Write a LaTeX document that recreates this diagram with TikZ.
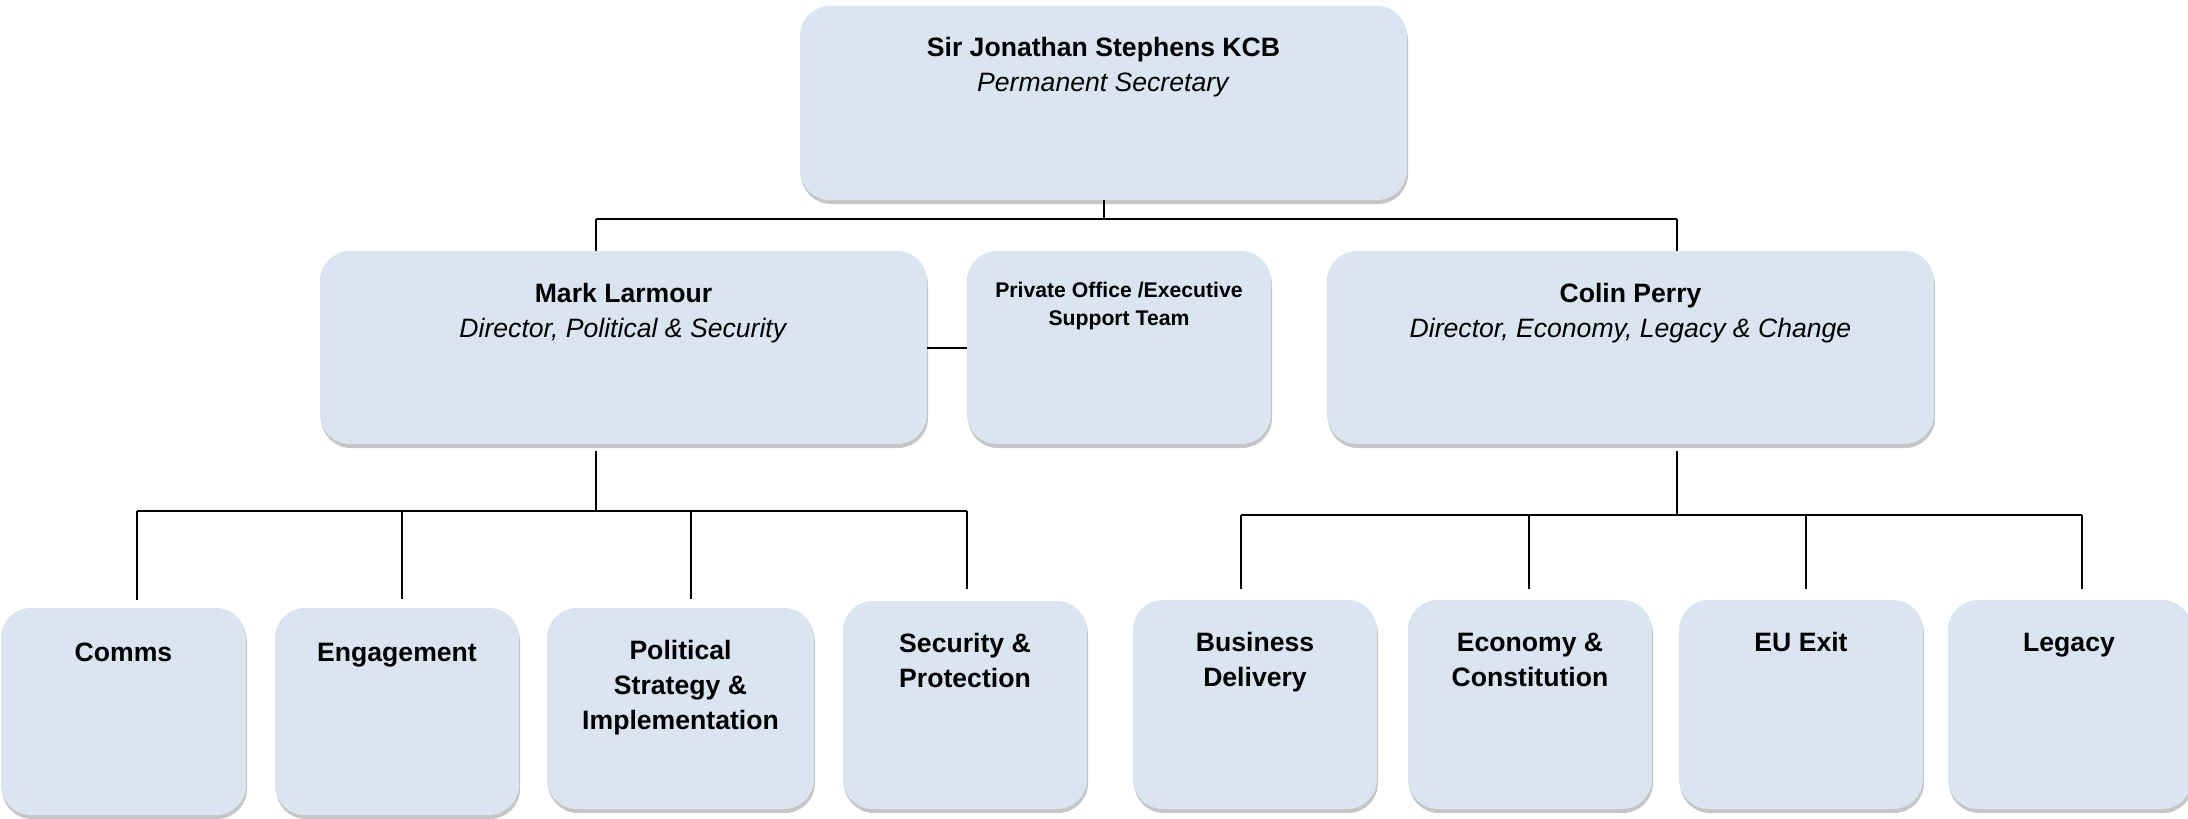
\documentclass[tikz,border=0pt]{standalone}
\usepackage{fontspec}
\setmainfont{Liberation Sans}
\usetikzlibrary{shadows}
\definecolor{boxfill}{HTML}{DBE5F1}
\definecolor{shadowgray}{HTML}{C6C6C6}
\begin{document}
\begin{tikzpicture}[x=1pt,y=-1pt,
  box/.style={rectangle, rounded corners=30pt, fill=boxfill, draw=none, inner sep=0pt, outer sep=0pt, anchor=north west,
    drop shadow={shadow xshift=1pt, shadow yshift=-4pt, fill=shadowgray, opacity=1}},
  big/.style={anchor=base, align=center, inner sep=0pt, font=\fontsize{26.6}{35}\selectfont},
  bigb/.style={big, font=\fontsize{26.6}{35}\selectfont\bfseries},
  small/.style={anchor=base, align=center, inner sep=0pt, font=\fontsize{21.2}{28}\selectfont\bfseries},
  conn/.style={draw=black, line width=2pt}]
\useasboundingbox (0,0) rectangle (2188,819);
% boxes
\node[box, minimum width=607pt, minimum height=194pt] (top) at (800,6) {};
\node[box, minimum width=607pt, minimum height=193pt] (mark) at (320,251) {};
\node[box, minimum width=304pt, minimum height=193pt] (po) at (967,251) {};
\node[box, minimum width=607pt, minimum height=193pt] (colin) at (1327,251) {};
\node[box, minimum width=245pt, minimum height=207pt] (comms) at (1,608) {};
\node[box, minimum width=244pt, minimum height=207pt] (eng) at (275,608) {};
\node[box, minimum width=267pt, minimum height=201pt] (pol) at (547,608) {};
\node[box, minimum width=244pt, minimum height=208pt] (sec) at (843,601) {};
\node[box, minimum width=244pt, minimum height=209pt] (bus) at (1133,600) {};
\node[box, minimum width=244pt, minimum height=209pt] (eco) at (1408,600) {};
\node[box, minimum width=244pt, minimum height=209pt] (eu) at (1679,600) {};
\node[box, minimum width=244pt, minimum height=209pt] (leg) at (1948,600) {};
% texts (base = baseline of last line)
\node[big] (ttop) at (top.north |- 0,91) {\textbf{Sir Jonathan Stephens KCB}\\\textit{Permanent Secretary}};
\node[big] (tmark) at (mark.north |- 0,337) {\textbf{Mark Larmour}\\\textit{Director, Political \& Security}};
\node[small] (tpo) at (po.north |- 0,325) {Private Office /Executive\\Support Team};
\node[big] (tcolin) at (colin.north |- 0,337) {\textbf{Colin Perry}\\\textit{Director, Economy, Legacy \& Change}};
\node[bigb] (tcomms) at (comms.north |- 0,661) {Comms};
\node[bigb] (teng) at (eng.north |- 0,661) {Engagement};
\node[bigb] (tpol) at (pol.north |- 0,729) {Political\\Strategy \&\\Implementation};
\node[bigb] (tsec) at (sec.north |- 0,687) {Security \&\\Protection};
\node[bigb] (tbus) at (bus.north |- 0,686) {Business\\Delivery};
\node[bigb] (teco) at (eco.north |- 0,686) {Economy \&\\Constitution};
\node[bigb] (teu) at (eu.north |- 0,651) {EU Exit};
\node[bigb] (tleg) at (2069,651) {Legacy};
% bus coordinates
\coordinate (busTL) at (596,219);
\coordinate (busTR) at (1677,219);
\coordinate (mdTop) at (596,451);
\coordinate (busML) at (137,511);
\coordinate (busMR) at (967,511);
\coordinate (cdTop) at (1677,451);
\coordinate (busCL) at (1241,515);
\coordinate (busCR) at (2082,515);
\coordinate (dEng) at (402,511);
\coordinate (dPol) at (691,511);
\coordinate (dEco) at (1529,515);
\coordinate (dEu) at (1806,515);
\coordinate (eComms) at (137,600);
\coordinate (eEng) at (402,599);
\coordinate (ePol) at (691,599);
\coordinate (eSec) at (967,589);
\coordinate (eBus) at (1241,589);
\coordinate (eEco) at (1529,589);
\coordinate (eEu) at (1806,589);
\coordinate (eLeg) at (2082,589);
% connectors
\draw[conn] (top.south) -- (top.south |- busTL);
\draw[conn] (busTL) -- (busTR);
\draw[conn] (busTL) -- (busTL |- mark.north);
\draw[conn] (busTR) -- (busTR |- colin.north);
\draw[conn] (mark.east) -- (po.west);
\draw[conn] (mdTop) -- (mdTop |- busML);
\draw[conn] (busML) -- (busMR);
\draw[conn] (busML) -- (eComms);
\draw[conn] (dEng) -- (eEng);
\draw[conn] (dPol) -- (ePol);
\draw[conn] (busMR) -- (eSec);
\draw[conn] (cdTop) -- (cdTop |- busCL);
\draw[conn] (busCL) -- (busCR);
\draw[conn] (busCL) -- (eBus);
\draw[conn] (dEco) -- (eEco);
\draw[conn] (dEu) -- (eEu);
\draw[conn] (busCR) -- (eLeg);
\end{tikzpicture}
\end{document}
